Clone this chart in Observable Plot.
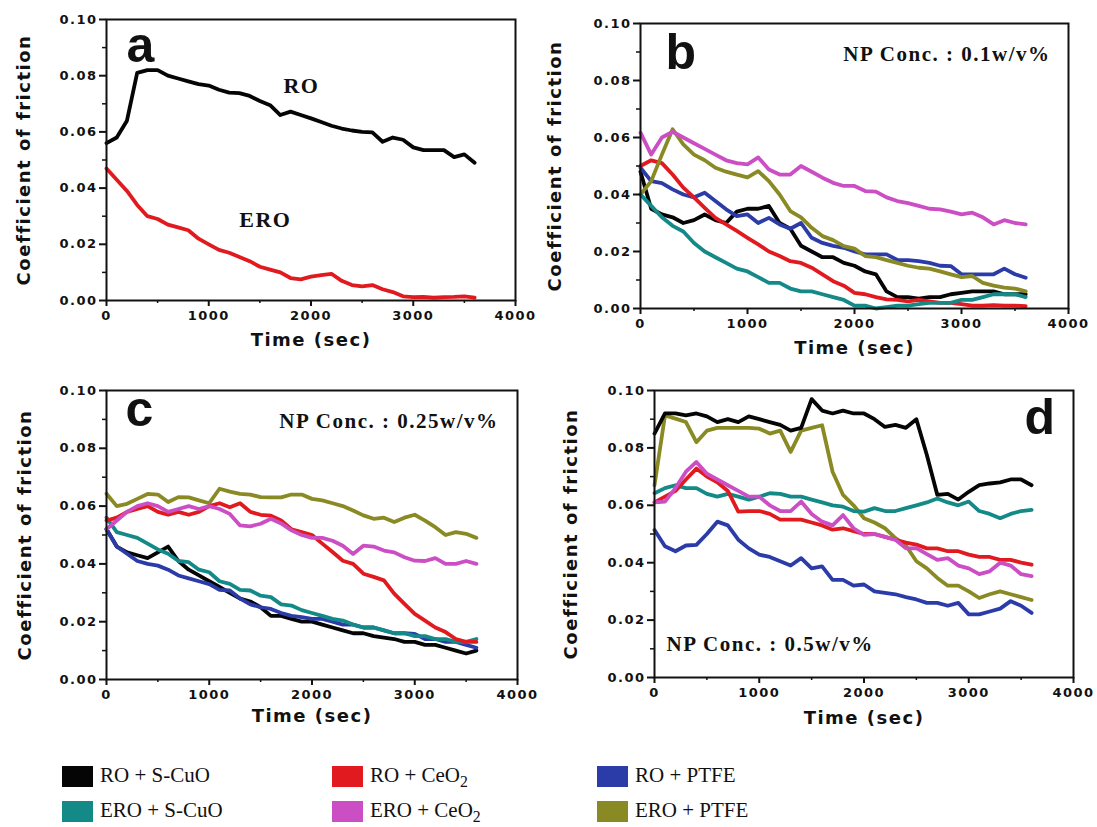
<!DOCTYPE html>
<html><head><meta charset="utf-8">
<script src="https://cdn.jsdelivr.net/npm/d3@7"></script>
<script src="https://cdn.jsdelivr.net/npm/@observablehq/plot@0.6"></script>
<style>
body{margin:0;background:#fff;}
#fig{position:relative;width:1097px;height:827px;overflow:hidden;background:#fff;}
.panel{position:absolute;}
.panel svg{background:none;max-width:none;}
.leg{position:absolute;font-family:"Liberation Serif",serif;font-size:21px;color:#111;white-space:nowrap;line-height:1;}
.sw{position:absolute;width:31px;height:21px;}
.leg sub{font-size:75%;vertical-align:-0.3em;line-height:0;}
</style></head><body><div id="fig"></div>
<script>
// time axis (sec)
const time = [0,100,200,300,400,500,600,700,800,900,1000,1100,1200,1300,1400,1500,1600,1700,1800,1900,2000,2100,2200,2300,2400,2500,2600,2700,2800,2900,3000,3100,3200,3300,3400,3500,3600];

// panel a
const aRO  = [0.056,0.058,0.064,0.081,0.082,0.082,0.080,0.079,0.078,0.077,0.0765,0.075,0.074,0.0738,0.0728,0.071,0.0695,0.066,0.0672,0.066,0.0648,0.0635,0.0622,0.0612,0.0605,0.060,0.0598,0.0565,0.058,0.0572,0.0545,0.0535,0.0535,0.0535,0.051,0.052,0.049];
const aERO = [0.047,0.043,0.039,0.034,0.030,0.029,0.027,0.026,0.025,0.022,0.020,0.018,0.017,0.0155,0.014,0.012,0.011,0.010,0.008,0.0075,0.0085,0.009,0.0095,0.007,0.0055,0.005,0.0055,0.004,0.003,0.0015,0.0012,0.0013,0.001,0.0012,0.0013,0.0015,0.001];

// panel b (0.1 w/v%)
const bRO_SCuO  = [0.048,0.035,0.033,0.032,0.030,0.031,0.033,0.031,0.030,0.034,0.035,0.035,0.036,0.030,0.028,0.022,0.020,0.018,0.018,0.016,0.015,0.013,0.012,0.006,0.004,0.004,0.0035,0.004,0.004,0.005,0.0055,0.006,0.006,0.006,0.005,0.005,0.005];
const bERO_SCuO = [0.040,0.036,0.032,0.029,0.027,0.023,0.020,0.018,0.016,0.014,0.013,0.011,0.009,0.009,0.007,0.006,0.006,0.005,0.004,0.003,0.001,0.001,0.0,0.0005,0.001,0.001,0.0015,0.002,0.002,0.002,0.003,0.003,0.004,0.005,0.005,0.005,0.004];
const bRO_CeO2  = [0.050,0.052,0.051,0.047,0.0424,0.039,0.0353,0.0318,0.0295,0.0272,0.0248,0.0225,0.020,0.0184,0.0166,0.016,0.0143,0.012,0.0096,0.008,0.0055,0.005,0.004,0.0032,0.003,0.0025,0.003,0.0025,0.002,0.002,0.0015,0.001,0.001,0.0012,0.001,0.001,0.0008];
const bERO_CeO2 = [0.0617,0.054,0.060,0.062,0.060,0.058,0.056,0.054,0.052,0.051,0.0506,0.053,0.0488,0.047,0.047,0.050,0.048,0.0459,0.0441,0.043,0.043,0.0412,0.041,0.039,0.0377,0.037,0.036,0.035,0.0348,0.034,0.033,0.0336,0.032,0.0295,0.031,0.030,0.0295];
const bRO_PTFE  = [0.0494,0.0447,0.044,0.0418,0.040,0.039,0.0406,0.0377,0.0348,0.0324,0.033,0.030,0.0318,0.0295,0.028,0.030,0.0248,0.023,0.022,0.0213,0.020,0.019,0.019,0.019,0.017,0.017,0.0166,0.016,0.015,0.0149,0.012,0.012,0.012,0.012,0.014,0.012,0.0108];
const bERO_PTFE = [0.040,0.0447,0.054,0.0629,0.0576,0.054,0.052,0.0494,0.048,0.047,0.046,0.0482,0.0447,0.040,0.0342,0.032,0.0283,0.0254,0.024,0.0219,0.021,0.0184,0.018,0.017,0.016,0.015,0.0143,0.014,0.013,0.012,0.011,0.0114,0.009,0.008,0.0073,0.007,0.006];

// panel c (0.25 w/v%)
const cRO_SCuO  = [0.052,0.046,0.044,0.043,0.042,0.044,0.046,0.041,0.038,0.036,0.034,0.032,0.030,0.028,0.027,0.025,0.022,0.022,0.021,0.020,0.020,0.019,0.018,0.017,0.016,0.016,0.015,0.0145,0.014,0.013,0.013,0.012,0.012,0.011,0.010,0.009,0.010];
const cERO_SCuO = [0.056,0.051,0.050,0.049,0.047,0.045,0.0435,0.041,0.0406,0.038,0.0371,0.034,0.0331,0.031,0.0308,0.029,0.0285,0.026,0.0256,0.024,0.023,0.022,0.021,0.0204,0.019,0.018,0.018,0.017,0.016,0.016,0.015,0.015,0.014,0.014,0.013,0.013,0.014];
const cRO_CeO2  = [0.055,0.056,0.058,0.059,0.060,0.058,0.057,0.058,0.057,0.058,0.060,0.061,0.0596,0.061,0.058,0.057,0.0567,0.055,0.052,0.051,0.050,0.047,0.0441,0.0411,0.040,0.0366,0.0355,0.0343,0.0297,0.0262,0.0227,0.0204,0.018,0.0164,0.014,0.013,0.013];
const cERO_CeO2 = [0.052,0.055,0.058,0.060,0.061,0.060,0.058,0.059,0.060,0.059,0.060,0.059,0.0573,0.0533,0.053,0.0539,0.0556,0.054,0.0516,0.050,0.049,0.049,0.048,0.0463,0.0434,0.0463,0.046,0.0446,0.044,0.0423,0.0411,0.041,0.042,0.040,0.040,0.041,0.040];
const cRO_PTFE  = [0.052,0.046,0.0435,0.041,0.040,0.0394,0.038,0.036,0.035,0.034,0.033,0.031,0.0308,0.028,0.026,0.025,0.0244,0.023,0.022,0.0216,0.021,0.021,0.020,0.019,0.019,0.018,0.018,0.017,0.016,0.016,0.0158,0.014,0.014,0.013,0.013,0.012,0.011];
const cERO_PTFE = [0.0643,0.060,0.0608,0.0625,0.0642,0.064,0.0614,0.0631,0.063,0.062,0.061,0.066,0.065,0.0642,0.064,0.0631,0.063,0.063,0.064,0.064,0.0625,0.062,0.061,0.060,0.0585,0.0568,0.0556,0.056,0.0545,0.056,0.057,0.055,0.0527,0.050,0.051,0.0504,0.049];

// panel d (0.5 w/v%)
const dRO_SCuO  = [0.085,0.092,0.092,0.0913,0.092,0.091,0.089,0.090,0.089,0.091,0.090,0.089,0.088,0.086,0.087,0.097,0.093,0.092,0.093,0.092,0.092,0.090,0.0873,0.088,0.087,0.090,0.0775,0.0636,0.064,0.062,0.0647,0.067,0.0676,0.068,0.069,0.069,0.067];
const dERO_SCuO = [0.0642,0.066,0.067,0.066,0.066,0.064,0.063,0.064,0.063,0.062,0.063,0.0642,0.064,0.063,0.063,0.062,0.061,0.060,0.0595,0.058,0.0578,0.059,0.058,0.058,0.059,0.060,0.061,0.0624,0.061,0.060,0.0613,0.058,0.057,0.0555,0.057,0.058,0.0584];
const dRO_CeO2  = [0.061,0.063,0.065,0.069,0.0728,0.070,0.068,0.065,0.0578,0.058,0.058,0.057,0.055,0.055,0.055,0.054,0.053,0.0515,0.052,0.051,0.050,0.050,0.049,0.048,0.047,0.0463,0.045,0.045,0.044,0.044,0.0428,0.042,0.042,0.041,0.041,0.040,0.0393];
const dERO_CeO2 = [0.061,0.0613,0.066,0.0717,0.0751,0.071,0.069,0.067,0.065,0.063,0.063,0.060,0.058,0.058,0.0613,0.057,0.0543,0.053,0.0566,0.052,0.0497,0.050,0.049,0.048,0.045,0.0451,0.043,0.041,0.0416,0.039,0.038,0.036,0.037,0.040,0.039,0.036,0.0353];
const dRO_PTFE  = [0.0514,0.0457,0.044,0.046,0.0462,0.050,0.0543,0.053,0.048,0.045,0.0428,0.042,0.0405,0.039,0.0416,0.038,0.0387,0.034,0.034,0.032,0.0324,0.030,0.0295,0.029,0.028,0.0272,0.026,0.026,0.025,0.026,0.022,0.022,0.023,0.024,0.0266,0.025,0.0225];
const dERO_PTFE = [0.067,0.0913,0.0902,0.089,0.082,0.086,0.087,0.087,0.087,0.087,0.0867,0.085,0.086,0.0786,0.086,0.087,0.0879,0.0717,0.0636,0.060,0.0555,0.054,0.052,0.0486,0.046,0.0405,0.038,0.0347,0.032,0.032,0.030,0.0277,0.029,0.030,0.029,0.028,0.027];

// axis ticks
const xTicks = [0,1000,2000,3000,4000];
const xMinor = [500,1500,2500,3500];
const yTicks = [0,0.02,0.04,0.06,0.08,0.10];
const yMinor = [0.01,0.03,0.05,0.07,0.09];

// legend categories and colours
const legendNames = ["RO + S-CuO","ERO + S-CuO","RO + CeO2","ERO + CeO2","RO + PTFE","ERO + PTFE"];
const colors = {"RO + S-CuO":"#050505","ERO + S-CuO":"#138a87","RO + CeO2":"#e11a1f","ERO + CeO2":"#cc4ec4","RO + PTFE":"#2b3ca8","ERO + PTFE":"#8a8a24"};

const fig = document.getElementById("fig");
const sans = "DejaVu Sans";
const serif = "Liberation Serif";

function makePanel(o) {
  const lineMarks = o.series.map(([vals, color]) =>
    Plot.line(vals, {x: time, y: d => d, stroke: color, strokeWidth: 3.8, strokeLinejoin: "round"}));
  const plot = Plot.plot({
    width: o.width, height: o.height,
    marginLeft: o.m[3], marginTop: o.m[0], marginRight: o.m[1], marginBottom: o.m[2],
    x: {domain: [0, 4000]},
    y: {domain: [0, 0.1]},
    style: {fontFamily: sans, fontWeight: "bold", fontSize: "13px", letterSpacing: "1.5px", background: "none", overflow: "visible", color: "#111"},
    marks: [
      ...lineMarks,
      Plot.frame({stroke: "#111", strokeWidth: 2}),
      Plot.axisX({ticks: xTicks, tickSize: 6, tickPadding: 4, tickFormat: d3.format("d"), label: null, strokeWidth: 2, fontWeight: "bold"}),
      Plot.axisX({ticks: xMinor, tickSize: 3, tickFormat: () => "", label: null, strokeWidth: 1.5}),
      Plot.axisY({ticks: yTicks, tickSize: 7, tickPadding: 2, tickFormat: d3.format(".2f"), label: null, strokeWidth: 2, fontWeight: "bold"}),
      Plot.axisY({ticks: yMinor, tickSize: 4, tickFormat: () => "", label: null, strokeWidth: 1.5}),
      Plot.text(["Coefficient of friction"], {frameAnchor: "left", textAnchor: "middle", rotate: -90, dx: o.ytdx, fontSize: 18, fontWeight: "bold", fontFamily: sans, fill: "#111"}),
      Plot.text(["Time (sec)"], {frameAnchor: "bottom", textAnchor: "middle", dy: o.xtdy, fontSize: 18, fontWeight: "bold", fontFamily: sans, fill: "#111"}),
      Plot.text([o.letter], {frameAnchor: o.letterAnchor, textAnchor: o.letterAnchor.endsWith("right") ? "end" : "start", lineAnchor: "bottom", dx: o.letterDx, dy: o.letterDy, fontSize: 50, fontWeight: "bold", fontFamily: "Liberation Sans", fill: "#111"}),
      ...(o.extra || [])
    ]
  });
  const div = document.createElement("div");
  div.className = "panel";
  div.style.left = o.left + "px";
  div.style.top = o.top + "px";
  div.style.width = o.width + "px";
  div.style.height = o.height + "px";
  div.appendChild(plot);
  fig.appendChild(div);
}

const npStyle = {fontFamily: serif, fontWeight: "bold", fontSize: 21, fill: "#111", lineAnchor: "bottom"};

makePanel({left: 0, top: 0, width: 540, height: 365, m: [19, 25, 65, 106],
  ytdx: -82, xtdy: 45, letter: "a", letterAnchor: "top-left", letterDx: 20, letterDy: 42,
  series: [[aRO, "#050505"], [aERO, "#e11a1f"]],
  extra: [
    Plot.text(["RO"], {x: [1906], y: [0.0737], ...npStyle, fontSize: 22}),
    Plot.text(["ERO"], {x: [1554], y: [0.026], ...npStyle, fontSize: 22})
  ]});

makePanel({left: 540, top: 0, width: 557, height: 370, m: [23, 29, 62, 100],
  ytdx: -85, xtdy: 45, letter: "b", letterAnchor: "top-left", letterDx: 25, letterDy: 45,
  series: [[bRO_SCuO, colors["RO + S-CuO"]], [bRO_PTFE, colors["RO + PTFE"]], [bRO_CeO2, colors["RO + CeO2"]], [bERO_PTFE, colors["ERO + PTFE"]], [bERO_CeO2, colors["ERO + CeO2"]], [bERO_SCuO, colors["ERO + S-CuO"]]],
  extra: [Plot.text(["NP Conc. : 0.1w/v%"], {frameAnchor: "top-right", textAnchor: "end", dx: -18, dy: 37, ...npStyle})]});

makePanel({left: 0, top: 370, width: 540, height: 380, m: [20, 23, 71, 106],
  ytdx: -81, xtdy: 42, letter: "c", letterAnchor: "top-left", letterDx: 19, letterDy: 35,
  series: [[cRO_SCuO, colors["RO + S-CuO"]], [cRO_PTFE, colors["RO + PTFE"]], [cERO_SCuO, colors["ERO + S-CuO"]], [cERO_PTFE, colors["ERO + PTFE"]], [cRO_CeO2, colors["RO + CeO2"]], [cERO_CeO2, colors["ERO + CeO2"]]],
  extra: [Plot.text(["NP Conc. : 0.25w/v%"], {frameAnchor: "top-right", textAnchor: "end", dx: -19, dy: 37, ...npStyle})]});

makePanel({left: 540, top: 370, width: 557, height: 380, m: [20, 24, 73, 114],
  ytdx: -83, xtdy: 46, letter: "d", letterAnchor: "top-right", letterDx: -17, letterDy: 43,
  series: [[dERO_PTFE, colors["ERO + PTFE"]], [dRO_SCuO, colors["RO + S-CuO"]], [dERO_SCuO, colors["ERO + S-CuO"]], [dRO_CeO2, colors["RO + CeO2"]], [dERO_CeO2, colors["ERO + CeO2"]], [dRO_PTFE, colors["RO + PTFE"]]],
  extra: [Plot.text(["NP Conc. : 0.5w/v%"], {frameAnchor: "bottom-left", textAnchor: "start", dx: 12, dy: -27, ...npStyle})]});

// legend (HTML, below the panels)
const legPos = [[62, 766], [62, 801], [332, 766], [332, 801], [597, 766], [597, 801]];
legendNames.forEach((name, i) => {
  const [lx, ly] = legPos[i];
  const sw = document.createElement("div");
  sw.className = "sw";
  sw.style.left = lx + "px"; sw.style.top = ly + "px";
  sw.style.background = colors[name];
  fig.appendChild(sw);
  const t = document.createElement("div");
  t.className = "leg";
  t.style.left = (lx + 38) + "px"; t.style.top = (ly - 1) + "px";
  t.innerHTML = name.replace("CeO2", "CeO<sub>2</sub>");
  fig.appendChild(t);
});
</script></body></html>
